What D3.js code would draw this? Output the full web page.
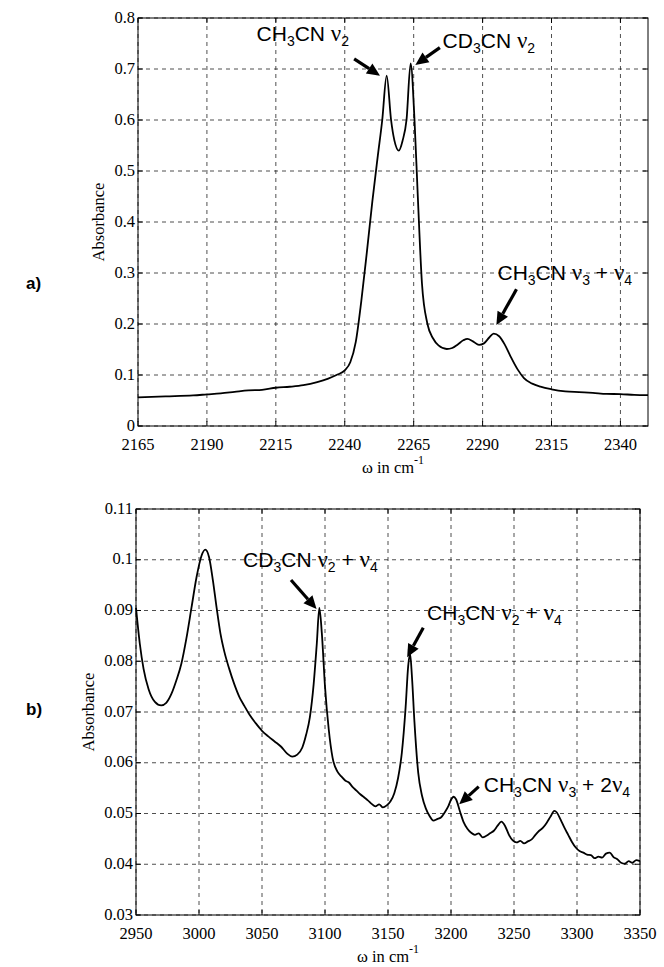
<!DOCTYPE html>
<html>
<head>
<meta charset="utf-8">
<script src="https://d3js.org/d3.v7.min.js"></script>
<style>
  body { margin: 0; background: #fff; }
  text { font-family: "Liberation Serif", "Times New Roman", serif; fill: #000; }
  .note { font-family: "Liberation Sans", Arial, sans-serif; }
</style>
</head>
<body>
<script>
// ---------------- panel a) : 2165-2350 cm-1 ----------------
var wnA = [2165, 2175, 2185, 2190, 2195, 2200, 2205, 2210, 2215, 2220, 2225, 2230, 2234, 2237,
  2240, 2242, 2244, 2246, 2248, 2250, 2252, 2253.6, 2255.2, 2256.8, 2258, 2259.6, 2261,
  2262.4, 2263.9, 2265.3, 2266.5, 2268, 2270, 2272, 2274, 2277, 2279, 2281, 2283, 2284.5,
  2286.5, 2288.7, 2290.5, 2292.5, 2294, 2296, 2298, 2300, 2302.7, 2305, 2308, 2311, 2315,
  2320, 2325, 2330, 2335, 2340, 2345, 2350];
var absA = [0.056, 0.058, 0.060, 0.062, 0.064, 0.067, 0.070, 0.071, 0.075, 0.077, 0.080, 0.086, 0.093, 0.100,
  0.109, 0.125, 0.165, 0.245, 0.340, 0.440, 0.530, 0.600, 0.687, 0.600, 0.560, 0.540, 0.560,
  0.600, 0.711, 0.600, 0.450, 0.280, 0.200, 0.172, 0.158, 0.151, 0.153, 0.160, 0.168, 0.171,
  0.166, 0.159, 0.162, 0.174, 0.181, 0.176, 0.160, 0.138, 0.111, 0.094, 0.083, 0.077, 0.072,
  0.068, 0.0665, 0.065, 0.063, 0.0625, 0.061, 0.0605];
var xTicksA = [2165, 2190, 2215, 2240, 2265, 2290, 2315, 2340];
var yTicksA = [0, 0.1, 0.2, 0.3, 0.4, 0.5, 0.6, 0.7, 0.8];
var yLabelsA = ['0', '0.1', '0.2', '0.3', '0.4', '0.5', '0.6', '0.7', '0.8'];

// ---------------- panel b) : 2950-3350 cm-1 ----------------
var wnB = [2950, 2953, 2956, 2960, 2965, 2970, 2974, 2978, 2982, 2986, 2990, 2994, 2998, 3002,
  3005, 3008, 3011, 3014, 3017, 3020, 3024, 3028, 3032, 3036, 3040, 3045, 3050, 3055, 3060,
  3065, 3070, 3074, 3078, 3082, 3085, 3088, 3091, 3093.5, 3095.5, 3097.5, 3100, 3103, 3106,
  3110, 3113, 3116, 3119, 3122, 3125, 3128, 3131, 3134, 3137, 3140, 3143, 3146, 3149, 3152,
  3155, 3158, 3161, 3164, 3166, 3167.5, 3169, 3171, 3174, 3177, 3180, 3183, 3186, 3189, 3192,
  3195, 3198, 3200, 3202, 3204, 3207, 3210, 3213, 3216, 3219, 3222, 3225, 3228, 3231, 3234,
  3237, 3240, 3243, 3246, 3249, 3252, 3255, 3258, 3261, 3264, 3267, 3270, 3273, 3276, 3279,
  3282, 3284, 3287, 3290, 3293, 3296, 3299, 3302, 3305, 3308, 3311, 3314, 3317, 3320, 3323,
  3326, 3329, 3332, 3335, 3338, 3341, 3344, 3347, 3350];
var absB = [0.0905, 0.0835, 0.0785, 0.0745, 0.0720, 0.0713, 0.0718, 0.0735, 0.0762, 0.0795, 0.0845, 0.0905, 0.0965, 0.1008,
  0.1020, 0.1005, 0.0960, 0.0905, 0.0855, 0.0820, 0.0785, 0.0755, 0.0730, 0.0712, 0.0695, 0.0678, 0.0663, 0.0652, 0.0642,
  0.0632, 0.0618, 0.0612, 0.0616, 0.0630, 0.0655, 0.0690, 0.0755, 0.0835, 0.0905, 0.0855, 0.0750, 0.0665, 0.0610,
  0.0582, 0.0573, 0.0565, 0.0561, 0.0552, 0.0545, 0.0538, 0.0532, 0.0526, 0.0519, 0.0514, 0.0518, 0.0512, 0.0516, 0.0524,
  0.0540, 0.0570, 0.0620, 0.0710, 0.0790, 0.0815, 0.0770, 0.0680, 0.0580, 0.0535, 0.0510, 0.0495, 0.0486, 0.0489, 0.0492,
  0.0502, 0.0515, 0.0527, 0.0533, 0.0528, 0.0505, 0.0483, 0.0470, 0.0462, 0.0458, 0.0461, 0.0453, 0.0456, 0.0461, 0.0466,
  0.0476, 0.0484, 0.0475, 0.0458, 0.0447, 0.0443, 0.0446, 0.0441, 0.0445, 0.0449, 0.0458, 0.0466, 0.0472, 0.0482, 0.0494,
  0.0505, 0.0502, 0.0488, 0.0472, 0.0458, 0.0444, 0.0433, 0.0426, 0.0423, 0.0419, 0.0418, 0.0412, 0.0415, 0.0413, 0.0421,
  0.0423, 0.0414, 0.0410, 0.0403, 0.0401, 0.0406, 0.0403, 0.0408, 0.0406];
var xTicksB = [2950, 3000, 3050, 3100, 3150, 3200, 3250, 3300, 3350];
var yTicksB = [0.03, 0.04, 0.05, 0.06, 0.07, 0.08, 0.09, 0.10, 0.11];
var yLabelsB = ['0.03', '0.04', '0.05', '0.06', '0.07', '0.08', '0.09', '0.1', '0.11'];

// annotation labels: [text, style]  n = normal, s = subscript, g = greek
var notesA = [
  { parts: [['CH','n'],['3','s'],['CN ','n'],['\u03bd','g'],['2','s']], at: [2208, 0.77],
    tail: [2243.4, 0.72], tip: [2252.8, 0.687] },
  { parts: [['CD','n'],['3','s'],['CN ','n'],['\u03bd','g'],['2','s']], at: [2275.5, 0.755],
    tail: [2274.5, 0.742], tip: [2265.6, 0.708] },
  { parts: [['CH','n'],['3','s'],['CN ','n'],['\u03bd','g'],['3','s'],[' + ','n'],['\u03bd','g'],['4','s']], at: [2295.4, 0.30],
    tail: [2302.3, 0.268], tip: [2295, 0.198] }
];
var notesB = [
  { parts: [['CD','n'],['3','s'],['CN ','n'],['\u03bd','g'],['2','s'],[' + ','n'],['\u03bd','g'],['4','s']], at: [3035, 0.1],
    tail: [3073, 0.0960], tip: [3093.3, 0.0903] },
  { parts: [['CH','n'],['3','s'],['CN ','n'],['\u03bd','g'],['2','s'],[' + ','n'],['\u03bd','g'],['4','s']], at: [3181, 0.0895],
    tail: [3178, 0.0866], tip: [3165.2, 0.0808] },
  { parts: [['CH','n'],['3','s'],['CN ','n'],['\u03bd','g'],['3','s'],[' + 2','n'],['\u03bd','g'],['4','s']], at: [3226, 0.0556],
    tail: [3222, 0.0553], tip: [3206.5, 0.0518] }
];

var W = 664, H = 967;
var svg = d3.select('body').append('svg').attr('width', W).attr('height', H);

function drawPanel(p) {
  var x = d3.scaleLinear().domain(p.xDom).range([p.L, p.R]);
  var y = d3.scaleLinear().domain(p.yDom).range([p.B, p.T]);
  var g = svg.append('g');

  // dashed grid
  g.selectAll('.vg').data(p.xTicks).enter().append('line')
    .attr('x1', function (d) { return x(d); }).attr('x2', function (d) { return x(d); })
    .attr('y1', p.T).attr('y2', p.B)
    .attr('stroke', '#222').attr('stroke-width', 0.8).attr('stroke-dasharray', '4,4');
  g.selectAll('.hg').data(p.yTicks).enter().append('line')
    .attr('y1', function (d) { return y(d); }).attr('y2', function (d) { return y(d); })
    .attr('x1', p.L).attr('x2', p.R)
    .attr('stroke', '#222').attr('stroke-width', 0.8).attr('stroke-dasharray', '4,4');

  // frame + small inward ticks
  g.append('rect').attr('x', p.L).attr('y', p.T).attr('width', p.R - p.L).attr('height', p.B - p.T)
    .attr('fill', 'none').attr('stroke', '#000').attr('stroke-width', 1);
  p.xTicks.forEach(function (d) {
    g.append('line').attr('x1', x(d)).attr('x2', x(d)).attr('y1', p.B).attr('y2', p.B - 5).attr('stroke', '#000');
    g.append('line').attr('x1', x(d)).attr('x2', x(d)).attr('y1', p.T).attr('y2', p.T + 5).attr('stroke', '#000');
  });
  p.yTicks.forEach(function (d) {
    g.append('line').attr('y1', y(d)).attr('y2', y(d)).attr('x1', p.L).attr('x2', p.L + 5).attr('stroke', '#000');
    g.append('line').attr('y1', y(d)).attr('y2', y(d)).attr('x1', p.R).attr('x2', p.R - 5).attr('stroke', '#000');
  });

  // tick labels
  g.selectAll('.xl').data(p.xTicks).enter().append('text')
    .attr('x', function (d) { return x(d); }).attr('y', p.B + 24)
    .attr('text-anchor', 'middle').style('font-size', '16.5px')
    .text(function (d) { return d; });
  g.selectAll('.yl').data(p.yTicks).enter().append('text')
    .attr('x', p.L - 3).attr('y', function (d) { return y(d); }).attr('dy', '0.28em')
    .attr('text-anchor', 'end').style('font-size', '16.5px')
    .text(function (d, i) { return p.yLabels[i]; });

  // axis titles
  g.append('text')
    .attr('transform', 'translate(' + p.yTitleX + ',' + ((p.T + p.B) / 2) + ') rotate(-90)')
    .attr('text-anchor', 'middle').style('font-size', '16.5px').text('Absorbance');
  var xt = g.append('text').attr('x', (p.L + p.R) / 2).attr('y', p.B + 47)
    .attr('text-anchor', 'middle').style('font-size', '16.5px');
  xt.append('tspan').text('\u03c9  in  cm');
  xt.append('tspan').attr('dy', -9).style('font-size', '12px').text('-1');

  // panel letter
  svg.append('text').attr('class', 'note').attr('x', p.letterX).attr('y', p.letterY)
    .style('font-size', '17px').style('font-weight', 'bold').text(p.letter);

  // spectrum
  var line = d3.line()
    .x(function (d) { return x(d[0]); })
    .y(function (d) { return y(d[1]); })
    .curve(d3.curveMonotoneX);
  g.append('path').datum(d3.zip(p.wn, p.ab)).attr('d', line)
    .attr('fill', 'none').attr('stroke', '#000').attr('stroke-width', 1.8)
    .attr('stroke-linejoin', 'round');

  // annotations
  p.notes.forEach(function (n) {
    var t = g.append('text').attr('class', 'note')
      .attr('x', x(n.at[0])).attr('y', y(n.at[1])).attr('dy', '0.35em').style('font-size', '21px');
    var shift = 0;
    n.parts.forEach(function (pt) {
      var s = t.append('tspan').text(pt[0]);
      if (pt[1] === 's') {
        s.attr('dy', 5 - shift).style('font-size', '14px'); shift = 5;
      } else {
        if (shift) s.attr('dy', -shift);
        shift = 0;
        if (pt[1] === 'g') s.style('font-family', '"Liberation Serif", serif').style('font-size', '23px');
      }
    });
    var x0 = x(n.tail[0]), y0 = y(n.tail[1]), x1 = x(n.tip[0]), y1 = y(n.tip[1]);
    var a = Math.atan2(y1 - y0, x1 - x0), hl = 13, hw = 6;
    var bx = x1 - hl * Math.cos(a), by = y1 - hl * Math.sin(a);
    g.append('line').attr('x1', x0).attr('y1', y0).attr('x2', bx).attr('y2', by)
      .attr('stroke', '#000').attr('stroke-width', 3.2);
    g.append('path')
      .attr('d', 'M' + x1 + ',' + y1 +
        'L' + (bx + hw * Math.sin(a)) + ',' + (by - hw * Math.cos(a)) +
        'L' + (bx - hw * Math.sin(a)) + ',' + (by + hw * Math.cos(a)) + 'Z')
      .attr('fill', '#000');
  });
}

drawPanel({
  L: 138, R: 648, T: 18, B: 426, xDom: [2165, 2350], yDom: [0, 0.8],
  xTicks: xTicksA, yTicks: yTicksA, yLabels: yLabelsA, wn: wnA, ab: absA,
  notes: notesA, yTitleX: 104, letter: 'a)', letterX: 26, letterY: 289
});
drawPanel({
  L: 136, R: 640, T: 509, B: 915, xDom: [2950, 3350], yDom: [0.03, 0.11],
  xTicks: xTicksB, yTicks: yTicksB, yLabels: yLabelsB, wn: wnB, ab: absB,
  notes: notesB, yTitleX: 94, letter: 'b)', letterX: 26, letterY: 715
});
</script>
</body>
</html>
